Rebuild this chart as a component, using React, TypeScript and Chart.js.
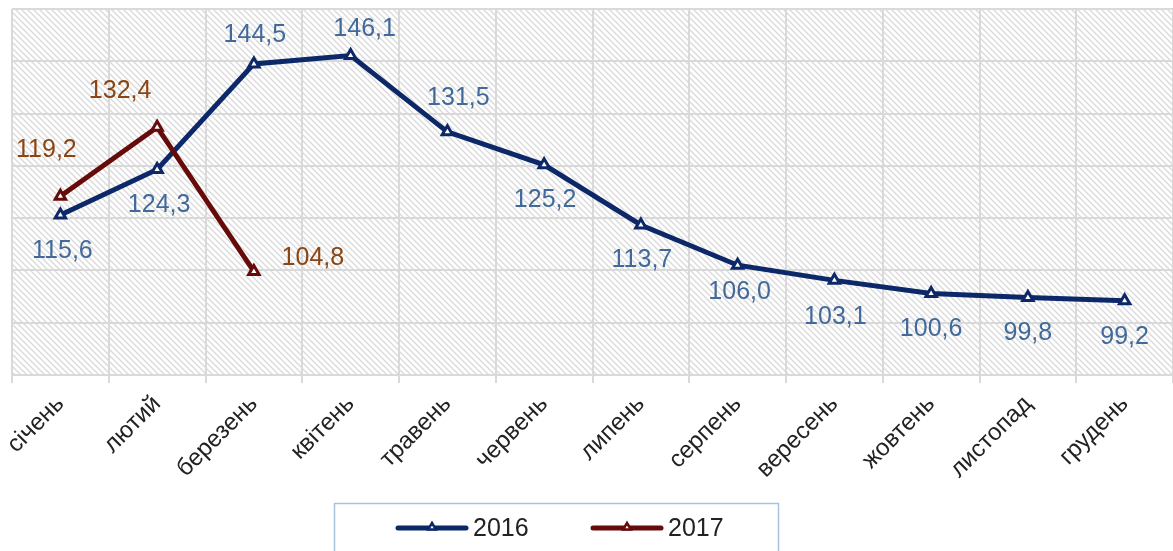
import React, { useEffect, useRef } from 'react';
import { Chart, registerables } from 'chart.js';

Chart.register(...registerables);

const months = ['січень', 'лютий', 'березень', 'квітень', 'травень', 'червень', 'липень', 'серпень', 'вересень', 'жовтень', 'листопад', 'грудень'];
const values2016 = [115.6, 124.3, 144.5, 146.1, 131.5, 125.2, 113.7, 106.0, 103.1, 100.6, 99.8, 99.2];
const values2017 = [119.2, 132.4, 104.8, null, null, null, null, null, null, null, null, null];
const seriesNames = ['2016', '2017'];
const yMin = 85;
const yMax = 155;
const yStep = 10;

// label offsets relative to the point (style only)
const labelOffsets2016: [number, number][] = [[2, 36], [2, 36], [1, -29], [14, -26], [11, -34], [1, 35], [1, 35], [2, 27], [1, 37], [0, 36], [0, 35], [0, 36]];
const labelOffsets2017: [number, number][] = [[-14, -46], [-37, -36], [59, -13]];

const color2016 = '#0D2868';
const color2017 = '#660A0A';
const labelColor2016 = '#41699A';
const labelColor2017 = '#8B4513';
const gridColor = '#D9D9D9';

function fmt(v: number) {
  return v.toFixed(1).replace('.', ',');
}

function makePattern(): CanvasPattern | string {
  const c = document.createElement('canvas');
  const s = 6;
  c.width = s;
  c.height = s;
  const g = c.getContext('2d');
  if (!g) return '#fff';
  g.fillStyle = '#ffffff';
  g.fillRect(0, 0, s, s);
  g.strokeStyle = '#DADADA';
  g.lineWidth = 1.4;
  g.beginPath();
  g.moveTo(-1, -1);
  g.lineTo(s + 1, s + 1);
  g.moveTo(-1, s - 1);
  g.lineTo(1, s + 1);
  g.moveTo(s - 1, -1);
  g.lineTo(s + 1, 1);
  g.stroke();
  const p = g.createPattern(c, 'repeat');
  return p || '#fff';
}

function drawTriangle(ctx: CanvasRenderingContext2D, x: number, y: number, r: number, stroke: string) {
  ctx.save();
  ctx.beginPath();
  ctx.moveTo(x, y - r);
  ctx.lineTo(x + r * 0.95, y + r * 0.6);
  ctx.lineTo(x - r * 0.95, y + r * 0.6);
  ctx.closePath();
  ctx.fillStyle = '#ffffff';
  ctx.strokeStyle = stroke;
  ctx.lineWidth = 2.5;
  ctx.fill();
  ctx.stroke();
  ctx.restore();
}

export default function App() {
  const ref = useRef<HTMLCanvasElement | null>(null);

  useEffect(() => {
    if (!ref.current) return;
    const pattern = makePattern();

    const bgPlugin = {
      id: 'hatchBg',
      beforeDraw(chart: any) {
        const { ctx, chartArea } = chart;
        ctx.save();
        ctx.fillStyle = pattern;
        ctx.fillRect(chartArea.left, chartArea.top, chartArea.right - chartArea.left, chartArea.bottom - chartArea.top);
        ctx.restore();
      },
    };

    const labelPlugin = {
      id: 'valueLabels',
      afterDatasetsDraw(chart: any) {
        const ctx = chart.ctx;
        ctx.save();
        ctx.font = '25px "Liberation Sans", Arial, sans-serif';
        ctx.textAlign = 'center';
        ctx.textBaseline = 'middle';
        const sets: [number, (number | null)[], [number, number][], string][] = [
          [0, values2016, labelOffsets2016, labelColor2016],
          [1, values2017, labelOffsets2017, labelColor2017],
        ];
        sets.forEach(([di, vals, offs, col]) => {
          const meta = chart.getDatasetMeta(di);
          vals.forEach((v, i) => {
            if (v === null || v === undefined) return;
            const el = meta.data[i];
            if (!el) return;
            const o = offs[i] || [0, 0];
            ctx.fillStyle = col;
            ctx.fillText(fmt(v), el.x + o[0], el.y + o[1]);
          });
        });
        ctx.restore();
      },
    };

    const legendPlugin = {
      id: 'boxLegend',
      afterDraw(chart: any) {
        const ctx = chart.ctx;
        ctx.save();
        ctx.strokeStyle = '#A9C2DC';
        ctx.lineWidth = 1.5;
        ctx.strokeRect(334.5, 503.5, 444, 70);
        const items: [string, string, number][] = [
          [seriesNames[0], color2016, 398],
          [seriesNames[1], color2017, 593],
        ];
        const y = 528;
        items.forEach(([name, col, x0]) => {
          ctx.strokeStyle = col;
          ctx.lineWidth = 5;
          ctx.lineCap = 'round';
          ctx.beginPath();
          ctx.moveTo(x0, y);
          ctx.lineTo(x0 + 68, y);
          ctx.stroke();
          drawTriangle(ctx, x0 + 34, y - 1, 4, col);
          ctx.fillStyle = '#222222';
          ctx.font = '25px "Liberation Sans", Arial, sans-serif';
          ctx.textAlign = 'left';
          ctx.textBaseline = 'middle';
          ctx.fillText(name, x0 + 75, y + 1);
        });
        ctx.restore();
      },
    };

    const chart = new Chart(ref.current, {
      type: 'line',
      data: {
        labels: months,
        datasets: [
          {
            label: seriesNames[0],
            data: values2016,
            borderColor: color2016,
            borderWidth: 5,
            pointStyle: 'triangle',
            pointRadius: 6,
            pointBorderWidth: 3,
            pointBackgroundColor: '#ffffff',
            pointBorderColor: color2016,
            tension: 0,
            order: 1,
          },
          {
            label: seriesNames[1],
            data: values2017,
            borderColor: color2017,
            borderWidth: 5,
            pointStyle: 'triangle',
            pointRadius: 6,
            pointBorderWidth: 3,
            pointBackgroundColor: '#ffffff',
            pointBorderColor: color2017,
            tension: 0,
            spanGaps: false,
            order: 0,
          },
        ],
      },
      options: {
        responsive: false,
        animation: false,
        layout: { padding: { left: 12, right: 3, top: 9, bottom: 0 } },
        plugins: {
          legend: { display: false },
          tooltip: { enabled: false },
        },
        scales: {
          x: {
            offset: true,
            grid: {
              offset: true,
              color: gridColor,
              lineWidth: 2,
              drawTicks: true,
              tickLength: 8,
              tickColor: gridColor,
            },
            border: { display: true, color: gridColor, width: 2 },
            ticks: {
              autoSkip: false,
              minRotation: 45,
              maxRotation: 45,
              padding: 7,
              color: '#222222',
              font: { family: '"Liberation Sans", Arial, sans-serif', size: 24 },
            },
            afterFit(scale: any) {
              scale.height = 176;
              scale.paddingLeft = 0;
              scale.paddingRight = 0;
            },
          },
          y: {
            min: yMin,
            max: yMax,
            grid: { color: gridColor, lineWidth: 2, drawTicks: false },
            border: { display: false },
            ticks: { display: false, stepSize: yStep },
          },
        },
      },
      plugins: [bgPlugin, labelPlugin, legendPlugin],
    });
    return () => chart.destroy();
  }, []);

  return (
    <div style={{ position: 'fixed', left: 0, top: 0, width: 1173, height: 551, overflow: 'hidden', background: '#fff' }}>
      <canvas ref={ref} width={1182} height={551} style={{ display: 'block' }} />
    </div>
  );
}
